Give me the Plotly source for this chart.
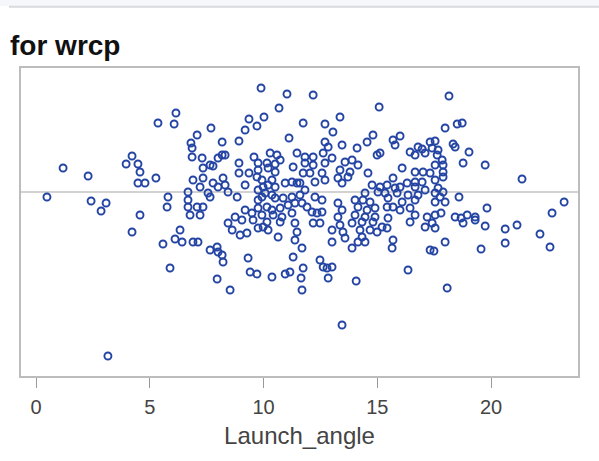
import plotly.graph_objects as go

# Launch angle (x) and residual of wrcp (y)
launch_angle = [
    0.48, 1.19, 2.29, 2.42, 3.08, 2.86, 4.57, 4.22, 3.96, 4.48, 4.57, 4.48, 4.79, 5.27, 5.36, 4.22, 5.58, 5.89, 3.16, 5.76, 5.80,
    6.15, 6.07, 7.69, 7.08, 6.81, 8.18, 6.86, 6.86, 7.30, 8.18, 8.00, 7.65, 7.34, 7.78, 6.90, 7.34, 8.22, 7.78, 8.00, 7.21,
    6.68, 6.68, 6.68, 7.08, 7.34, 7.56, 7.65, 6.77, 7.21, 6.33, 6.11, 6.42, 6.90, 7.12, 7.65, 7.96, 8.00, 8.18, 8.22, 7.96, 8.53,
    8.44, 8.84, 9.19, 8.92, 8.92, 9.19, 9.36, 9.71, 10.02, 9.89, 11.03, 10.68, 11.12, 9.58, 10.29, 10.73, 9.76, 10.15, 10.51,
    8.92, 9.36, 12.70, 12.84, 8.31, 10.59, 11.47, 11.82, 12.18, 12.62, 11.82, 12.18, 12.70, 9.76, 10.20, 10.51, 9.71,
    11.74, 12.04, 12.57, 12.70, 12.26, 9.93, 10.37, 9.98, 10.20, 10.51, 10.95, 11.25, 11.60, 8.31, 9.76, 10.07, 10.37,
    9.76, 9.93, 10.51, 10.86, 11.25, 11.60, 11.82, 12.26, 12.57, 9.19, 9.76, 10.15, 10.37, 10.73, 11.08, 11.38, 11.69, 11.91,
    8.75, 9.49, 9.93, 10.42, 10.81, 11.25, 12.13, 12.35, 12.57, 8.44, 9.05, 9.54, 10.15, 10.73, 11.38, 12.18, 12.48,
    8.62, 8.97, 9.76, 10.20, 11.47, 13.01, 10.64, 9.27, 9.98,
    9.32, 9.41, 9.71, 10.37, 10.95, 11.30, 11.74, 11.65, 11.69, 11.16, 11.69, 11.38, 12.48, 12.62, 12.79, 13.01, 12.84,
    13.01, 13.45, 14.07, 12.18, 11.74, 12.70, 13.05, 13.01, 11.30, 11.47,
    13.45, 14.11, 14.55, 15.78, 16.79, 17.32, 15.12, 14.99, 16.44, 16.66, 17.10, 17.67, 13.58, 14.15, 13.36, 13.80, 17.54, 17.89,
    14.59, 16.09, 16.66, 17.01, 17.32, 13.27, 13.71, 13.45, 15.69, 16.31, 16.66, 16.97, 17.54, 17.89, 14.77, 15.12, 15.43, 15.78,
    16.00, 16.66, 17.10, 17.67, 14.46, 15.03, 15.34, 15.87, 16.35, 16.79, 17.54, 17.89, 13.27, 14.02, 14.37, 14.68, 15.47, 16.09,
    16.66, 17.54, 13.45, 14.15, 14.55, 14.90, 15.43, 15.69, 16.00, 16.44, 13.27, 14.02, 14.46, 14.90, 15.47, 16.66, 17.19, 17.54,
    13.36, 13.89, 14.33, 14.81, 15.21, 16.44, 17.10, 17.54, 13.49, 13.58, 14.24, 14.33, 14.15, 14.46, 14.68, 14.99, 15.43, 13.89,
    15.69, 15.65, 17.32, 16.35, 15.08, 13.36, 14.81, 15.69, 16.00, 13.89,
    18.15, 17.98, 18.51, 18.73, 17.54, 18.33, 18.42, 19.03, 17.41, 16.97, 17.63, 17.85, 17.89, 18.77, 19.74, 21.36, 17.76, 18.59,
    17.98, 19.82, 23.21, 22.68, 17.80, 18.42, 18.95, 19.30, 17.41, 18.68, 18.77, 19.30, 19.74, 20.62, 21.14, 22.15, 22.59, 20.62,
    19.56, 17.98, 17.49, 18.07,
]
residual = [
    -2.5, 12, 8, -4.5, -5.5, -9.5, -11.5, 18, 14, 14, 10, 4.5, 4.5, 7, 34.5, -20, -26, -38, -82, -7.5, -2.5,
    39.5, 34, 32, 28.5, 24.5, 25, 22, 17.5, 17, 18.5, 17, 13.5, 12, 13, 6, 7, 7, 4.5, 2.5, 2.5,
    0, -4, -7.5, -7.5, -7.5, -0.5, -2.5, -11.5, -11.5, -19, -23.5, -25, -25, -25, -29, -27.5, -30, -31.5, -35, -43.5, -49,
    0, -2.5, 3.5, 14.5, 25.5, 31, 36.5, 33, 37.5, 52, 49, 42, 27, 17.5, 19.5, 16, 14.5, 14.5, 14,
    9.5, 9.5, 25, 22.5, 18.5, 18.5, 19.5, 17.5, 17.5, 19.5, 14.5, 13.5, 14.5, 11, 12, 10, 7.5,
    9.5, 9.5, 9.5, 6, 5, 6, 6, 2.5, 3.5, 2.5, 4.5, 5, 4.5, 3.5, 1, -0.5, -1.5,
    -4, -2.5, -3, -3, -2.5, -1.5, 1, -2.5, -4, -9, -8, -7.5, -9, -8, -6.5, -5.5, -5.5, -7.5,
    -12.5, -10.5, -11.5, -11.5, -12.5, -10.5, -10, -10.5, -10, -15.5, -14, -14, -15, -15, -15.5, -15.5, -15.5,
    -19, -21.5, -18, -19, -20, -19, -22.5, -20.5, -17.5,
    -33, -40, -41, -42.5, -41, -32.5, -38, -43, -49, -40, -28, -24, -34, -37.5, -38, -37.5, -43,
    -25, -66.5, -44.5, 48.5, 34.5, 34, 30, 17, 12.5, 4.5,
    23.5, 22, 25, 23.5, 22.5, 25, 19.5, 18.5, 20, 18.5, 19.5, 21, 15, 13.5, 11, 10, 13.5, 13.5,
    9.5, 12, 10, 10, 9.5, 7, 7.5, 4.5, 7, 4.5, 5, 5, 6, 7.5, 3.5, 2.5, 3.5, 2,
    2.5, 2.5, 1, 2, -0.5, 0, -0.5, -0.5, -1.5, -1.5, -0.5, 0, -5.5, -4, -4, -5, -3, -5,
    -4, -5, -9, -7.5, -9, -8, -7.5, -7.5, -9, -8, -12.5, -11.5, -12.5, -12.5, -13, -11.5, -12.5, -11.5,
    -16.5, -15.5, -15, -15, -17.5, -15, -17.5, -18, -20, -23, -19, -22.5, -25, -25, -19, -20, -18, -28,
    -24, -28, -29, -39, 42.5, 37.5, 28.5, 26, 28, 16,
    48, 32, 34, 34.5, 25.5, 24, 22.5, 20, 22, 21.5, 18.5, 16, 10, 14.5, 13.5, 6.5, -2.5, -2.5,
    -5, -8, -5, -10.5, -10.5, -12.5, -11.5, -12.5, -15.5, -13, -15.5, -14, -17, -18.5, -16.5, -21, -27.5, -25.5,
    -28.5, -25, -29.5, -48,
]

x_ticks = [0, 5, 10, 15, 20]
title_text = "for wrcp"
x_title = "Launch_angle"

font_family = "Liberation Sans, Arial, sans-serif"
frame_col = "#bcbcbc"
marker_col = "#2444a4"

fig = go.Figure()
fig.add_trace(go.Scatter(
    x=launch_angle, y=residual, mode="markers",
    marker=dict(symbol="circle-open", size=7, color=marker_col, line=dict(width=1.9, color=marker_col)),
    showlegend=False, hoverinfo="skip",
))

fig.update_layout(
    width=599, height=461,
    margin=dict(l=21, r=21, t=68, b=85, pad=0),
    paper_bgcolor="white", plot_bgcolor="white",
    font=dict(family=font_family, color="#444444"),
    xaxis=dict(
        range=[-0.66, 23.82], tickvals=x_ticks, ticktext=[str(t) for t in x_ticks],
        ticks="outside", ticklen=10, tickwidth=1, tickcolor="#999999",
        showgrid=False, zeroline=False,
        showline=True, linecolor=frame_col, linewidth=1.5, mirror=True,
        tickfont=dict(size=20, color="#444444"), ticklabelstandoff=2,
        title=dict(text=x_title, font=dict(size=24, color="#444444"), standoff=10),
    ),
    yaxis=dict(
        range=[-92, 62], showticklabels=False, ticks="",
        showgrid=False, zeroline=False,
        showline=True, linecolor=frame_col, linewidth=1.5, mirror=True,
    ),
    shapes=[
        dict(type="line", xref="paper", yref="y", x0=0, x1=1, y0=0, y1=0,
             line=dict(color="#a6a6a6", width=1.2), layer="below"),
        dict(type="rect", xref="paper", yref="paper", x0=-0.05, x1=1.05, y0=1.201, y1=1.23,
             fillcolor="#f6f7fb", line=dict(width=0), layer="below"),
        dict(type="line", xref="paper", yref="paper", x0=-0.0215, x1=1.05, y0=1.199, y1=1.199,
             line=dict(color="#d6d9de", width=2)),
    ],
    annotations=[
        dict(text="<b>" + title_text + "</b>", xref="paper", yref="paper",
             x=-0.0233, y=1.072, xanchor="left", yanchor="middle", showarrow=False,
             font=dict(size=28, color="#111111", family=font_family)),
    ],
)

fig.write_html("out.html")
